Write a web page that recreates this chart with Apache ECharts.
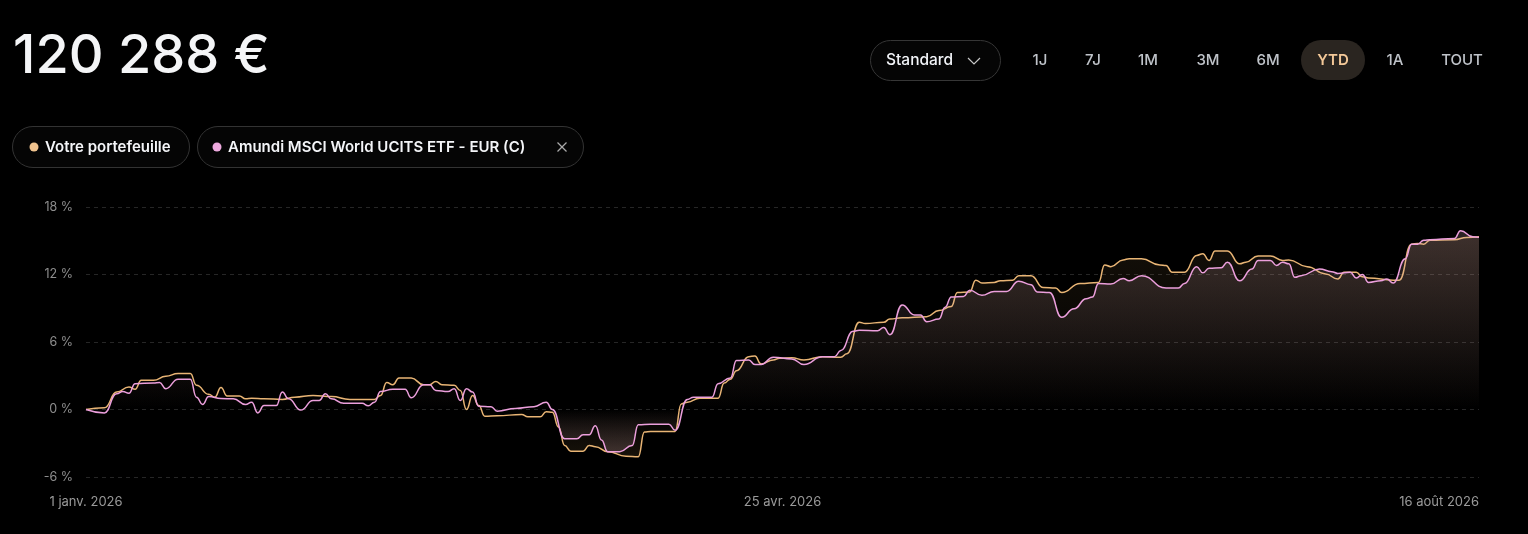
<!DOCTYPE html>
<html>
<head>
<meta charset="utf-8">
<script src="https://cdn.jsdelivr.net/npm/echarts@6/dist/echarts.min.js"></script>
<style>
html,body{margin:0;padding:0;background:#000;}
#chart{width:1528px;height:534px;}
</style>
</head>
<body>
<div id="chart"></div>
<script>
// ---- Data (day offsets from 1 Jan 2026, values in %) ----
const portfolioDays = [0,3,5,7,8,9,11,13,15,17,18,20,21,22,23,25,26,27,29,32,34,37,40,43,47,48,49,50,51,53,55,56,57,58,60,61,62,63,64,65,67,71,72,74,75,76,77,78,79,81,82,83,85,88,90,91,92,96,97,98,100,103,104,105,106,108,109,110,112,113,115,117,120,123,124,126,127,130,131,133,137,139,141,142,144,145,146,148,149,151,152,154,156,158,159,162,165,166,167,169,170,172,175,176,177,179,181,182,183,184,186,188,189,191,193,195,196,199,202,204,205,207,208,209,213,214,216,217,218,219,223,225,227];
const portfolioValues = [0.0,0.15,1.55,2.0,1.8,2.6,2.6,2.95,3.2,3.2,2.15,1.35,1.1,1.95,1.2,1.2,0.95,1.0,0.95,0.9,1.1,1.25,1.15,0.9,0.9,1.25,2.4,2.2,2.8,2.8,2.2,2.2,2.5,2.2,2.15,1.7,0.0,1.25,0.35,-0.6,-0.55,-0.45,-0.65,-0.65,-0.2,-0.25,-1.55,-3.2,-3.7,-3.7,-3.2,-3.3,-3.75,-4.15,-4.2,-2.0,-1.95,-1.95,0.5,0.65,1.0,1.0,2.35,2.7,3.45,4.7,4.75,4.05,4.4,4.55,4.6,4.4,4.7,4.65,4.95,7.75,7.65,7.75,8.05,8.15,8.25,8.8,9.15,10.4,10.45,11.5,11.25,11.3,11.45,11.5,11.9,11.9,10.85,10.8,10.4,11.2,11.3,12.85,12.7,13.3,13.4,13.4,12.85,12.8,12.2,12.2,13.7,13.85,13.25,14.1,14.1,12.95,13.1,13.65,13.65,13.25,13.3,12.7,12.05,11.6,12.2,12.2,11.8,11.7,11.5,11.5,14.7,14.75,14.7,15.05,15.1,15.3,15.35];

const benchmarkDays = [0,3,5,6,7,8,11,12,13,15,17,18,19,20,22,24,26,27,28,29,31,32,33,35,37,38,39,40,42,45,46,47,48,50,52,53,55,56,57,59,60,61,62,63,64,66,67,70,73,75,76,78,80,81,82,83,84,85,87,89,90,92,95,96,98,99,102,103,105,106,108,109,110,112,115,117,120,122,123,125,126,129,130,131,133,135,136,137,139,140,141,143,144,146,148,150,152,154,155,157,159,161,163,164,165,167,169,170,172,176,178,179,181,182,183,185,186,188,190,191,193,194,195,196,197,198,201,203,204,206,207,208,209,211,212,213,215,216,217,218,219,223,224,226,227];
const benchmarkValues = [0.0,-0.3,1.4,1.6,1.45,2.3,2.35,2.4,1.85,2.7,2.7,1.1,0.45,1.15,0.98,0.95,0.45,0.65,-0.3,0.35,0.35,1.55,0.95,-0.05,0.8,0.8,1.4,0.95,0.55,0.55,0.33,0.65,1.6,1.8,1.8,1.05,2.2,2.2,1.7,1.6,1.85,0.8,1.85,1.55,0.3,0.25,-0.15,0.1,0.25,0.65,0.0,-2.6,-2.6,-2.25,-2.25,-1.45,-2.7,-3.75,-3.75,-3.2,-1.35,-1.3,-1.3,-1.85,0.9,1.1,1.1,2.3,2.8,4.35,4.4,4.0,4.0,4.65,4.5,4.0,4.7,4.7,5.25,6.95,7.05,7.0,7.3,6.65,9.3,8.4,8.4,7.8,8.05,9.1,10.0,10.05,10.6,10.15,10.5,10.5,11.4,11.1,10.45,10.4,8.2,8.95,9.85,10.0,11.2,11.15,11.65,11.45,11.9,10.8,10.8,11.2,12.7,12.15,12.55,12.6,13.1,11.45,12.5,13.25,13.25,12.8,13.1,12.95,11.75,11.9,12.5,12.25,12.1,12.2,11.7,12.0,11.3,11.45,11.6,11.25,13.4,14.7,14.7,15.05,15.1,15.2,15.9,15.35,15.3];

const xTickLabels = ['1 janv. 2026', '25 avr. 2026', '16 août 2026'];
const yTicks = [-6, 0, 6, 12, 18];
const rangeButtons = ['1J', '7J', '1M', '3M', '6M', 'YTD', '1A', 'TOUT'];
const seriesNames = ['Votre portefeuille', 'Amundi MSCI World UCITS ETF - EUR (C)'];
const totalValue = '120 288 €';

// ---- helpers ----
function pairs(days, vals) { return days.map((d, i) => [d, vals[i]]); }
function areaGradient(vals, r, g, b, aTop, aBottom) {
  const mx = Math.max(0, ...vals), mn = Math.min(0, ...vals);
  const zero = mx / (mx - mn);
  return new echarts.graphic.LinearGradient(0, 0, 0, 1, [
    { offset: 0, color: `rgba(${r},${g},${b},${aTop})` },
    { offset: zero, color: `rgba(${r},${g},${b},0)` },
    { offset: 1, color: `rgba(${r},${g},${b},${aBottom})` }
  ]);
}

const FONT = 'Inter, "Noto Sans", sans-serif';
const ORANGE = '#e9b575';
const PINK = '#ec9fdc';
const maxDay = 227;

const chart = echarts.init(document.getElementById('chart'), null, { renderer: 'canvas' });

const btnX = [1040, 1093, 1148, 1208, 1268, 1333, 1395, 1462];
const graphics = [
  { type: 'text', x: 13, y: 57, style: { text: totalValue, fill: '#f4f5f7', font: '500 54px ' + FONT, verticalAlign: 'middle' } },
  // Standard dropdown
  { type: 'rect', shape: { x: 870.5, y: 40.5, width: 130, height: 40, r: 20 }, style: { fill: '#050505', stroke: '#363636', lineWidth: 1 } },
  { type: 'text', x: 886, y: 60.5, style: { text: 'Standard', fill: '#f2f4f8', font: '500 15.5px ' + FONT, verticalAlign: 'middle', align: 'left' } },
  { type: 'polyline', shape: { points: [[968, 58], [974, 64], [980, 58]] }, style: { stroke: '#c8c8c8', lineWidth: 1.2, fill: null } },
  // YTD pill
  { type: 'rect', shape: { x: 1301, y: 40, width: 64, height: 40, r: 20 }, style: { fill: '#2a2520' } },
  // legend chips
  { type: 'rect', shape: { x: 12.5, y: 126.5, width: 177, height: 41, r: 20.5 }, style: { fill: '#050505', stroke: '#333', lineWidth: 1 } },
  { type: 'circle', shape: { cx: 34, cy: 147, r: 4.5 }, style: { fill: '#f0c38e' } },
  { type: 'text', x: 45, y: 147, style: { text: seriesNames[0], fill: '#f4f5f8', font: '600 15px ' + FONT, verticalAlign: 'middle' } },
  { type: 'rect', shape: { x: 197.5, y: 126.5, width: 386, height: 41, r: 20.5 }, style: { fill: '#050505', stroke: '#333', lineWidth: 1 } },
  { type: 'circle', shape: { cx: 217, cy: 147, r: 4.5 }, style: { fill: '#eeaadf' } },
  { type: 'text', x: 228, y: 147, style: { text: seriesNames[1], fill: '#f4f5f8', font: '600 15px ' + FONT, verticalAlign: 'middle' } },
  { type: 'line', shape: { x1: 557.5, y1: 142.5, x2: 566.5, y2: 151.5 }, style: { stroke: '#aaa', lineWidth: 1.2 } },
  { type: 'line', shape: { x1: 566.5, y1: 142.5, x2: 557.5, y2: 151.5 }, style: { stroke: '#aaa', lineWidth: 1.2 } }
];
rangeButtons.forEach((t, i) => {
  const sel = t === 'YTD';
  graphics.push({ type: 'text', x: btnX[i], y: 60.5, style: { text: t, fill: sel ? '#f3c898' : '#bfc3c9', font: (sel ? '600 ' : '500 ') + '15px ' + FONT, align: 'center', verticalAlign: 'middle' } });
});

const option = {
  backgroundColor: '#000',
  animation: false,
  textStyle: { fontFamily: FONT },
  grid: { left: 86, right: 49, top: 207, bottom: 57, containLabel: false },
  xAxis: {
    type: 'value', min: 0, max: maxDay, interval: maxDay / 2,
    axisLine: { show: false }, axisTick: { show: false }, splitLine: { show: false },
    axisLabel: {
      color: '#9a9a9a', fontSize: 13, margin: 19, fontFamily: FONT,
      alignMaxLabel: 'right',
      formatter: v => xTickLabels[Math.round(v / (maxDay / 2))]
    }
  },
  yAxis: {
    type: 'value', min: yTicks[0], max: yTicks[yTicks.length - 1], interval: 6,
    axisLine: { show: false }, axisTick: { show: false },
    splitLine: { show: true, lineStyle: { color: '#262626', type: [4, 4], width: 1 } },
    axisLabel: { color: '#8e8e8e', fontSize: 12.5, margin: 13, fontFamily: FONT, formatter: v => v + ' %' }
  },
  graphic: graphics,
  series: [
    {
      name: seriesNames[0], type: 'line', data: pairs(portfolioDays, portfolioValues),
      smooth: 0.5, smoothMonotone: 'x', showSymbol: false, symbol: 'none',
      lineStyle: { color: ORANGE, width: 1.5 },
      areaStyle: { color: areaGradient(portfolioValues, 225, 175, 100, 0.13, 0.15), origin: 0 },
      emphasis: { disabled: true }, z: 2
    },
    {
      name: seriesNames[1], type: 'line', data: pairs(benchmarkDays, benchmarkValues),
      smooth: 0.5, smoothMonotone: 'x', showSymbol: false, symbol: 'none',
      lineStyle: { color: PINK, width: 1.5 },
      areaStyle: { color: areaGradient(benchmarkValues, 205, 162, 170, 0.32, 0.32), origin: 0 },
      emphasis: { disabled: true }, z: 3
    }
  ]
};
chart.setOption(option);
</script>
</body>
</html>
